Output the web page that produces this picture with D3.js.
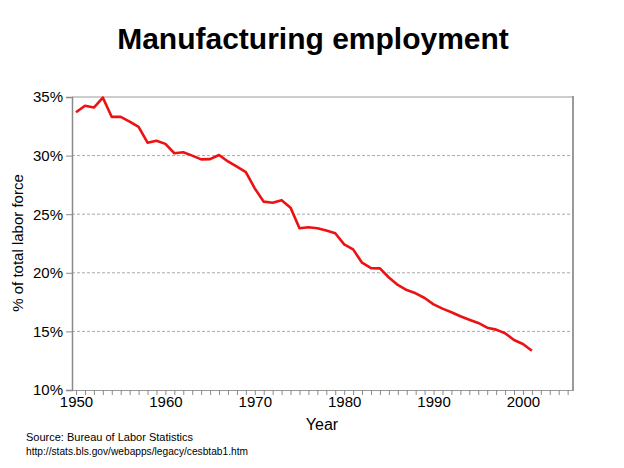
<!DOCTYPE html>
<html>
<head>
<meta charset="utf-8">
<script src="https://cdn.jsdelivr.net/npm/d3@7"></script>
<style>
  body { margin: 0; background: #fff; }
  svg { display: block; font-family: "Liberation Sans", Arial, sans-serif; }
</style>
</head>
<body>
<svg id="chart" width="624" height="468"></svg>
<script>
const years = d3.range(1950, 2002);
const shares = [
  33.7, 34.25, 34.1, 34.95, 33.3, 33.3, 32.9, 32.45, 31.1, 31.27,
  31.0, 30.2, 30.28, 30.0, 29.68, 29.7, 30.05, 29.5, 29.05, 28.6,
  27.2, 26.07, 25.98, 26.2, 25.56, 23.8, 23.88, 23.8, 23.6, 23.37,
  22.43, 22.0, 20.86, 20.4, 20.38, 19.6, 18.96, 18.53, 18.25, 17.85,
  17.31, 16.94, 16.63, 16.29, 16.0, 15.72, 15.32, 15.15, 14.84, 14.27,
  13.93, 13.35
];
const yTicks = [10, 15, 20, 25, 30, 35];
const xLabelTicks = [1950, 1960, 1970, 1980, 1990, 2000];
const xMinorTicks = d3.range(1950, 2006);

const svg = d3.select("#chart");
const L = 72, R = 573, T = 97, B = 390;

const x = d3.scaleLinear().domain([1949.55, 2005.6]).range([L, R]);
const y = d3.scaleLinear().domain([10, 35]).range([B, T]);

// Title
svg.append("text").attr("x", 313).attr("y", 49).attr("text-anchor", "middle")
  .attr("font-size", 30).attr("font-weight", "bold").text("Manufacturing employment");

// gridlines
svg.append("g").selectAll("line").data(yTicks.filter(v => v > 10 && v < 35)).join("line")
  .attr("x1", L).attr("x2", R).attr("y1", d => y(d)).attr("y2", d => y(d))
  .attr("stroke", "#a8a8a8").attr("stroke-width", 1).attr("stroke-dasharray", "3,2");

// top border
svg.append("line").attr("x1", L).attr("x2", R).attr("y1", y(35)).attr("y2", y(35))
  .attr("stroke", "#bdbdbd").attr("stroke-width", 1.5);
// right border
svg.append("line").attr("x1", R).attr("x2", R).attr("y1", T - 1).attr("y2", B + 1)
  .attr("stroke", "#9a9a9a").attr("stroke-width", 2);

// Y axis
const yAxis = d3.axisLeft(y).tickValues(yTicks).tickFormat(d => d + "%").tickSize(6).tickPadding(3);
const gy = svg.append("g").attr("transform", `translate(${L},0)`).call(yAxis);
gy.select(".domain").attr("stroke", "#8a8a8a").attr("stroke-width", 1.5);
gy.selectAll(".tick line").attr("stroke", "#8a8a8a");
gy.selectAll(".tick text").attr("font-size", 15).attr("fill", "#000")
  .attr("font-family", "Liberation Sans, Arial, sans-serif");

// X axis minor ticks
const xAxisMinor = d3.axisBottom(x).tickValues(xMinorTicks).tickFormat("").tickSize(5).tickSizeOuter(0);
const gx = svg.append("g").attr("transform", `translate(0,${B})`).call(xAxisMinor);
gx.select(".domain").attr("stroke", "#9a9a9a").attr("stroke-width", 1.2);
gx.selectAll(".tick line").attr("stroke", "#8a8a8a");

// X labels
const xAxisLab = d3.axisBottom(x).tickValues(xLabelTicks).tickFormat(d3.format("d")).tickSize(0).tickPadding(6);
const gxl = svg.append("g").attr("transform", `translate(0,${B})`).call(xAxisLab);
gxl.select(".domain").remove();
gxl.selectAll(".tick text").attr("font-size", 15).attr("fill", "#000")
  .attr("font-family", "Liberation Sans, Arial, sans-serif");

// Axis titles
svg.append("text").attr("x", 322).attr("y", 430).attr("text-anchor", "middle")
  .attr("font-size", 16).text("Year");
svg.append("text").attr("transform", `translate(23,243) rotate(-90)`).attr("text-anchor", "middle")
  .attr("font-size", 15).text("% of total labor force");

// Line
const line = d3.line().x((d, i) => x(years[i])).y(d => y(d));
svg.append("path").datum(shares).attr("d", line)
  .attr("fill", "none").attr("stroke", "#ee1111").attr("stroke-width", 2.6)
  .attr("stroke-linejoin", "round");

// Source
svg.append("text").attr("x", 26).attr("y", 441).attr("font-size", 11).text("Source: Bureau of Labor Statistics");
svg.append("text").attr("x", 26).attr("y", 455).attr("font-size", 10.2).text("http://stats.bls.gov/webapps/legacy/cesbtab1.htm");
</script>
</body>
</html>
